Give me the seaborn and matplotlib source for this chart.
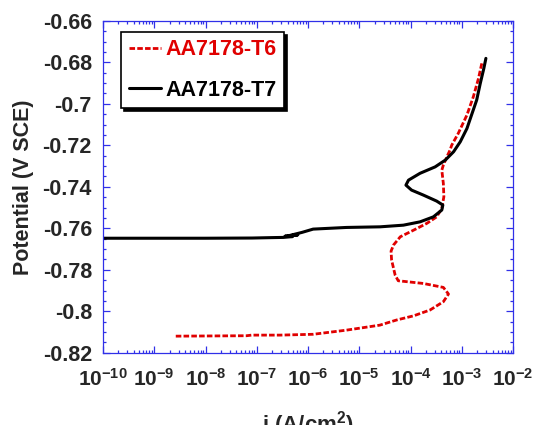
import numpy as np
import pandas as pd
import matplotlib
matplotlib.use('Agg')
import matplotlib.pyplot as plt
import seaborn as sns

# polarization curves: log10 of i (A/cm2) and potential (V SCE)
log_i_t6 = [-8.58, -7.2, -7.1, -6.55, -5.90, -5.25, -4.60, -4.27, -3.94, -3.62,
            -3.36, -3.26, -3.36, -3.75, -4.24, -4.30, -4.37, -4.38, -4.33, -4.20,
            -3.94, -3.68, -3.49, -3.39, -3.35, -3.36, -3.39, -3.36, -3.29, -3.23,
            -3.196, -3.07, -2.90, -2.775, -2.675, -2.61]
e_t6 = [-0.8120, -0.8118, -0.8115, -0.8115, -0.8111, -0.8091, -0.8067, -0.8042, -0.8022, -0.7994,
        -0.7954, -0.7917, -0.7885, -0.7866, -0.7853, -0.7826, -0.7753, -0.7710, -0.7680, -0.7641,
        -0.7609, -0.7576, -0.7545, -0.7504, -0.7448, -0.7384, -0.7320, -0.7295, -0.7255, -0.7223,
        -0.7199, -0.7143, -0.7054, -0.6966, -0.6878, -0.6805]

log_i_t7 = [-10.3, -9.0, -8.0, -7.09, -6.70, -6.48, -6.30, -6.45, -6.20, -6.38,
            -6.12, -5.90, -5.25, -4.595, -4.14, -3.815, -3.555, -3.39, -3.37, -3.49,
            -3.75, -3.98, -4.09, -4.04, -3.815, -3.52, -3.32, -3.16, -3.03, -2.90,
            -2.81, -2.71, -2.64, -2.57, -2.53]
e_t7 = [-0.7648, -0.7648, -0.7648, -0.7647, -0.7645, -0.7644, -0.7640, -0.7638, -0.7632, -0.7636,
        -0.7620, -0.7604, -0.7596, -0.7593, -0.7585, -0.7569, -0.7545, -0.7512, -0.7488, -0.7469,
        -0.7440, -0.7416, -0.7392, -0.7368, -0.7335, -0.7304, -0.7271, -0.7231, -0.7183, -0.7119,
        -0.7054, -0.6982, -0.6902, -0.6829, -0.6781]

xtick_exps = [-10, -9, -8, -7, -6, -5, -4, -3, -2]
yticks = [-0.82, -0.8, -0.78, -0.76, -0.74, -0.72, -0.7, -0.68, -0.66]

sns.set_style('ticks')
plt.rcParams['font.family'] = ['Liberation Sans', 'DejaVu Sans']
plt.rcParams['font.weight'] = 'bold'
plt.rcParams['axes.labelweight'] = 'bold'
plt.rcParams['mathtext.fontset'] = 'custom'
plt.rcParams['mathtext.rm'] = 'Liberation Sans:bold'
plt.rcParams['mathtext.it'] = 'Liberation Sans:bold:italic'
plt.rcParams['mathtext.bf'] = 'Liberation Sans:bold'
plt.rcParams['mathtext.default'] = 'rm'
plt.rcParams['axes.unicode_minus'] = False

blue = '#3030e8'

fig = plt.figure(figsize=(5.35, 4.25), dpi=100)
ax = fig.add_axes([0.1925, 0.170, 0.7665, 0.781])

df6 = pd.DataFrame({'i': 10 ** np.array(log_i_t6), 'E': e_t6})
df7 = pd.DataFrame({'i': 10 ** np.array(log_i_t7), 'E': e_t7})

sns.lineplot(data=df6, x='i', y='E', sort=False, estimator=None, ax=ax,
             color='#e00000', lw=2.0, label='AA7178-T6')
sns.lineplot(data=df7, x='i', y='E', sort=False, estimator=None, ax=ax,
             color='black', lw=2.2, label='AA7178-T7')
ax.lines[0].set_linestyle((0, (2.0, 0.8)))

ax.set_xscale('log')
ax.set_xlim(1e-10, 1e-2)
ax.set_ylim(-0.82, -0.66)
ax.set_xticks([10.0 ** k for k in xtick_exps])
ax.set_xticklabels([r'$10^{%d}$' % k for k in xtick_exps], fontsize=15)
ax.set_yticks(yticks)
ax.set_yticklabels(['%g' % v for v in yticks], fontsize=15.5, fontweight='bold')
ax.yaxis.set_minor_locator(matplotlib.ticker.MultipleLocator(0.005))
ax.xaxis.set_minor_locator(matplotlib.ticker.LogLocator(base=10, subs=np.arange(2, 10), numticks=20))
ax.xaxis.set_minor_formatter(matplotlib.ticker.NullFormatter())

ax.tick_params(which='both', direction='in', top=True, right=True, color=blue, width=0.9)
ax.tick_params(which='major', length=5)
ax.tick_params(which='minor', length=2.5)
ax.tick_params(axis='x', which='major', pad=11)
ax.tick_params(axis='y', which='major', pad=8)
for s in ax.spines.values():
    s.set_color(blue)
    s.set_linewidth(0.9)

ax.set_xlabel(r'i (A/cm$^2$)', fontsize=16, fontweight='bold')
ax.set_ylabel('Potential (V SCE)', fontsize=15.5, fontweight='bold')
ax.xaxis.set_label_coords(0.5, -0.170)
ax.yaxis.set_label_coords(-0.168, 0.5)

leg = ax.legend(loc='upper left', bbox_to_anchor=(0.045, 0.967), borderaxespad=0,
                fontsize=15.5, handlelength=1.5, handletextpad=0.2, borderpad=0.35,
                labelspacing=0.9, fancybox=False, framealpha=1, labelcolor='linecolor',
                shadow={'color': 'black', 'alpha': 1})
leg.get_frame().set_edgecolor('black')
leg.get_frame().set_linewidth(1.2)
for t in leg.get_texts():
    t.set_fontweight('bold')

fig.savefig('out.png', dpi=100)
